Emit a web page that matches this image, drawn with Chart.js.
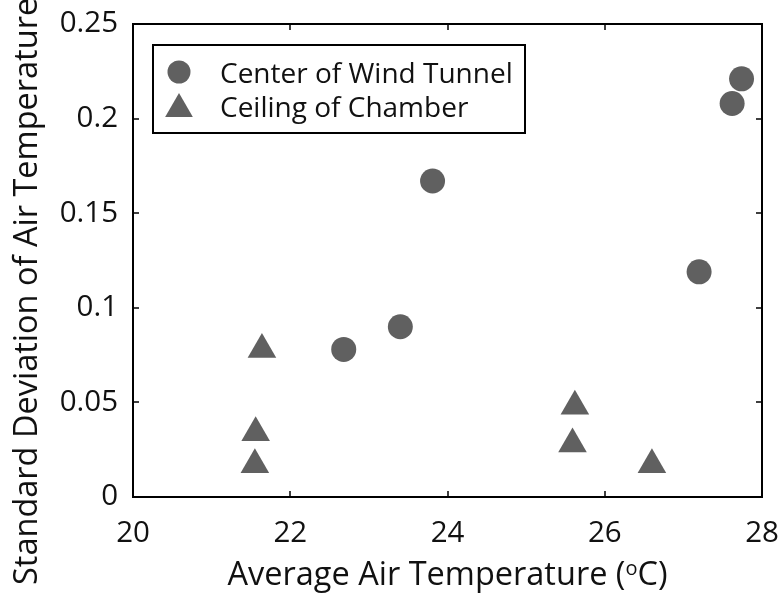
<!DOCTYPE html>
<html>
<head>
<meta charset="utf-8">
<script src="https://cdn.jsdelivr.net/npm/chart.js@4.4.0/dist/chart.umd.min.js"></script>
<style>
  html, body { margin: 0; padding: 0; background: #fff; }
</style>
</head>
<body>
<canvas id="tempChart" width="779" height="598"></canvas>
<script>
// Centro del túnel de viento (círculos)
const centerTemp = [22.68, 23.40, 23.81, 27.20, 27.62, 27.74];
const centerStd  = [0.078, 0.090, 0.167, 0.119, 0.208, 0.221];

// Techo de la cámara (triángulos)
const ceilingTemp = [21.55, 21.56, 21.64, 25.59, 25.62, 26.60];
const ceilingStd  = [0.017, 0.034, 0.078, 0.028, 0.048, 0.017];

// Marcas de los ejes
const xTicks = [20, 22, 24, 26, 28];
const yTicks = [0, 0.05, 0.1, 0.15, 0.2, 0.25];

const seriesLabels = ['Center of Wind Tunnel', 'Ceiling of Chamber'];
const xTitle = ['Average Air Temperature (', 'o', 'C)'];
const yTitle = 'Standard Deviation of Air Temperature';

const FONT = '"Open Sans", "Noto Sans", sans-serif';
const TICK_SIZE = 29.5;
const TITLE_SIZE = 32.5;
const LEGEND_SIZE = 28;
const MARKER = '#606060';

function toPoints(xs, ys) {
    return xs.map((v, i) => ({ x: v, y: ys[i] }));
}

// Plugin: caja estilo MATLAB, marcas hacia adentro, títulos y leyenda
const framePlugin = {
    id: 'matlabFrame',
    afterDraw(chart) {
        const { ctx, chartArea: a, scales: { x, y } } = chart;
        ctx.save();

        // Caja
        ctx.strokeStyle = '#000';
        ctx.lineWidth = 2;
        ctx.strokeRect(a.left, a.top, a.right - a.left, a.bottom - a.top);

        // Marcas hacia adentro
        ctx.lineWidth = 1.5;
        ctx.beginPath();
        xTicks.forEach(v => {
            const px = Math.round(x.getPixelForValue(v));
            ctx.moveTo(px, a.bottom); ctx.lineTo(px, a.bottom - 6);
            ctx.moveTo(px, a.top); ctx.lineTo(px, a.top + 6);
        });
        yTicks.forEach(v => {
            const py = Math.round(y.getPixelForValue(v));
            ctx.moveTo(a.left, py); ctx.lineTo(a.left + 6, py);
            ctx.moveTo(a.right, py); ctx.lineTo(a.right - 6, py);
        });
        ctx.stroke();

        // Título del eje x (con superíndice)
        ctx.fillStyle = '#111';
        ctx.textBaseline = 'alphabetic';
        ctx.textAlign = 'left';
        const big = TITLE_SIZE + 'px ' + FONT;
        const small = Math.round(TITLE_SIZE * 0.62) + 'px ' + FONT;
        ctx.font = big;
        const w0 = ctx.measureText(xTitle[0]).width;
        const w2 = ctx.measureText(xTitle[2]).width;
        ctx.font = small;
        const w1 = ctx.measureText(xTitle[1]).width;
        const cx = (a.left + a.right) / 2;
        let tx = cx - (w0 + w1 + w2) / 2;
        const baseY = 585;
        ctx.font = big;
        ctx.fillText(xTitle[0], tx, baseY);
        tx += w0;
        ctx.font = small;
        ctx.fillText(xTitle[1], tx, baseY - 10);
        tx += w1;
        ctx.font = big;
        ctx.fillText(xTitle[2], tx, baseY);

        // Título del eje y (rotado)
        ctx.save();
        ctx.translate(37, 585);
        ctx.rotate(-Math.PI / 2);
        ctx.font = big;
        ctx.fillText(yTitle, 0, 0);
        ctx.restore();

        // Leyenda
        const lx = 153, ly = 45, lw = 372, lh = 88;
        ctx.fillStyle = '#fff';
        ctx.fillRect(lx, ly, lw, lh);
        ctx.strokeStyle = '#000';
        ctx.lineWidth = 2;
        ctx.strokeRect(lx, ly, lw, lh);

        const ds = chart.data.datasets;
        ctx.fillStyle = ds[0].backgroundColor;
        ctx.beginPath();
        ctx.arc(179, 72, ds[0].pointRadius - 1, 0, Math.PI * 2);
        ctx.fill();

        const r = ds[1].pointRadius - 0.5, tcx = 179, tcy = 109;
        ctx.fillStyle = ds[1].backgroundColor;
        ctx.beginPath();
        for (let k = 0; k < 3; k++) {
            const ang = k * 2 * Math.PI / 3;
            const px = tcx + Math.sin(ang) * r, py = tcy - Math.cos(ang) * r;
            if (k === 0) ctx.moveTo(px, py); else ctx.lineTo(px, py);
        }
        ctx.closePath();
        ctx.fill();

        ctx.fillStyle = '#111';
        ctx.font = LEGEND_SIZE + 'px ' + FONT;
        ctx.fillText(ds[0].label, 220, 83);
        ctx.fillText(ds[1].label, 220, 117);

        ctx.restore();
    }
};

const ctx = document.getElementById('tempChart').getContext('2d');
const chart = new Chart(ctx, {
    type: 'scatter',
    data: {
        datasets: [
            {
                label: seriesLabels[0],
                data: toPoints(centerTemp, centerStd),
                pointStyle: 'circle',
                pointRadius: 12.5,
                borderWidth: 0,
                backgroundColor: MARKER,
                borderColor: MARKER
            },
            {
                label: seriesLabels[1],
                data: toPoints(ceilingTemp, ceilingStd),
                pointStyle: 'triangle',
                pointRadius: 16.5,
                borderWidth: 0,
                backgroundColor: MARKER,
                borderColor: MARKER
            }
        ]
    },
    options: {
        responsive: false,
        animation: false,
        events: [],
        layout: { padding: { top: 24, right: 17, left: 0, bottom: 0 } },
        plugins: {
            legend: { display: false },
            tooltip: { enabled: false }
        },
        scales: {
            x: {
                type: 'linear',
                min: 20,
                max: 28,
                grid: { display: false, drawTicks: false },
                border: { display: false },
                afterBuildTicks: s => { s.ticks = xTicks.map(v => ({ value: v })); },
                afterFit: s => { s.height = 101; s.paddingLeft = 0; s.paddingRight = 0; },
                ticks: {
                    padding: 19,
                    color: '#111',
                    font: { family: FONT, size: TICK_SIZE },
                    callback: v => String(v)
                }
            },
            y: {
                type: 'linear',
                min: 0,
                max: 0.25,
                grid: { display: false, drawTicks: false },
                border: { display: false },
                afterBuildTicks: s => { s.ticks = yTicks.map(v => ({ value: v })); },
                afterFit: s => { s.width = 133; s.paddingTop = 0; s.paddingBottom = 0; },
                ticks: {
                    padding: 15,
                    color: '#111',
                    font: { family: FONT, size: TICK_SIZE },
                    callback: v => String(+v.toFixed(2))
                }
            }
        }
    },
    plugins: [framePlugin]
});
</script>
</body>
</html>
